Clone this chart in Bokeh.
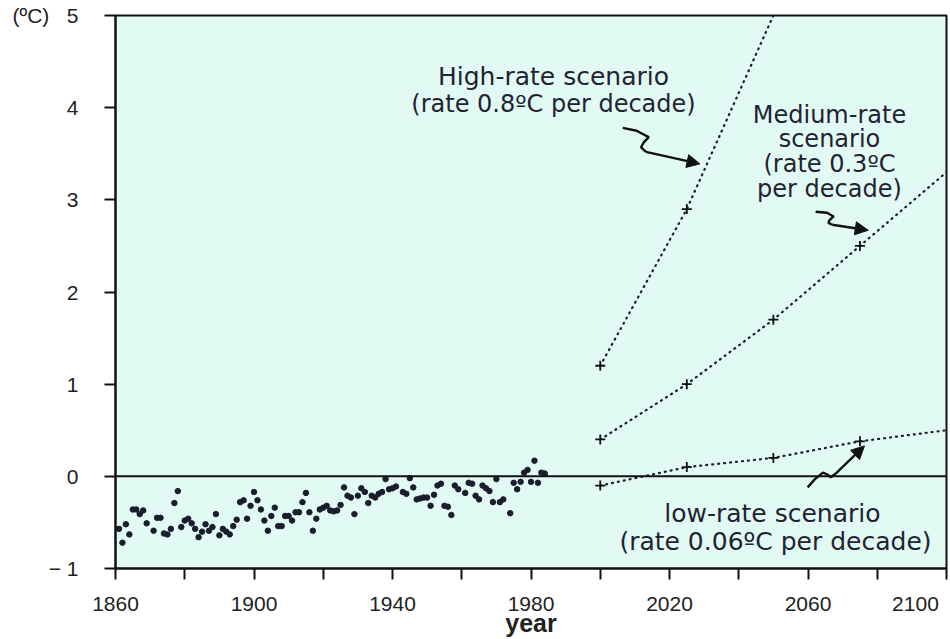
from bokeh.plotting import figure
from bokeh.models import FixedTicker, Label, Arrow, NormalHead, Span
from bokeh.embed import file_html
from bokeh.resources import INLINE

FONT = "Liberation Sans"
AFONT = "DejaVu Sans"

# ---- observed global temperature anomaly (deg C) ----
hist_years = [1861, 1862, 1863, 1864, 1865, 1866, 1867, 1868, 1869, 1871,
              1872, 1873, 1874, 1875, 1876, 1877, 1878, 1879, 1880, 1881,
              1882, 1883, 1884, 1885, 1886, 1887, 1888, 1889, 1890, 1891,
              1892, 1893, 1894, 1895, 1896, 1897, 1898, 1899, 1900, 1901,
              1902, 1903, 1904, 1905, 1906, 1907, 1908, 1909, 1910, 1911,
              1912, 1913, 1914, 1915, 1916, 1917, 1918, 1919, 1920, 1921,
              1922, 1923, 1924, 1925, 1926, 1927, 1928, 1929, 1930, 1931,
              1932, 1933, 1934, 1935, 1936, 1937, 1938, 1939, 1940, 1941,
              1943, 1944, 1945, 1946, 1947, 1948, 1949, 1950, 1951, 1952,
              1953, 1954, 1955, 1956, 1957, 1958, 1959, 1961, 1962, 1963,
              1964, 1965, 1966, 1967, 1968, 1969, 1970, 1971, 1972, 1974,
              1975, 1976, 1977, 1978, 1979, 1980, 1981, 1982, 1983, 1984]
hist_values = [-0.57, -0.72, -0.52, -0.63, -0.36, -0.36, -0.41, -0.37, -0.51, -0.59,
               -0.45, -0.45, -0.62, -0.63, -0.57, -0.29, -0.16, -0.55, -0.48, -0.46,
               -0.51, -0.57, -0.66, -0.60, -0.52, -0.59, -0.55, -0.41, -0.64, -0.57,
               -0.60, -0.63, -0.54, -0.47, -0.28, -0.26, -0.46, -0.32, -0.17, -0.26,
               -0.36, -0.48, -0.59, -0.43, -0.34, -0.54, -0.54, -0.43, -0.43, -0.48,
               -0.39, -0.39, -0.28, -0.18, -0.39, -0.59, -0.46, -0.36, -0.34, -0.32,
               -0.37, -0.38, -0.37, -0.31, -0.12, -0.21, -0.23, -0.41, -0.21, -0.13,
               -0.17, -0.29, -0.21, -0.23, -0.19, -0.17, -0.03, -0.14, -0.13, -0.11,
               -0.17, -0.19, -0.02, -0.12, -0.25, -0.24, -0.23, -0.23, -0.32, -0.20,
               -0.10, -0.08, -0.32, -0.33, -0.42, -0.10, -0.14, -0.18, -0.07, -0.08,
               -0.21, -0.25, -0.10, -0.13, -0.16, -0.28, -0.03, -0.28, -0.25, -0.40,
               -0.07, -0.14, -0.06, 0.04, 0.07, -0.06, 0.17, -0.07, 0.04, 0.03]

# ---- scenarios ----
high_years = [2000, 2025, 2050]
high_values = [1.2, 2.9, 5.0]
medium_years = [2000, 2025, 2050, 2075, 2100]
medium_values = [0.4, 1.0, 1.7, 2.5, 3.3]
low_years = [2000, 2025, 2050, 2075, 2100]
low_values = [-0.1, 0.1, 0.2, 0.38, 0.5]

# ---- axes ----
NB = "\u00a0"
x_ticks = [1860, 1880, 1900, 1920, 1940, 1960, 1980, 2000, 2020, 2040, 2060, 2080, 2100]
x_tick_labels = ["1860", "", "1900", "", "1940", "", "1980", "", "2020", "", "2060", "",
                 "2100" + NB * 2]
y_ticks = [-1, 0, 1, 2, 3, 4, 5]
y_tick_labels = ["\u2212" + NB + "1", "0", "1", "2", "3", "4", "(\u00baC)" + NB * 3 + "5"]

# ---- annotation arrows (year, deg C) ----
high_arrow_x = [2006.5, 2010.5, 2014.0, 2012.5, 2011.8, 2013.2]
high_arrow_y = [3.78, 3.75, 3.68, 3.62, 3.57, 3.52]
high_arrow_end = (2028.8, 3.39)
med_arrow_x = [2062.2, 2065.5, 2067.4, 2066.2, 2065.9, 2067.0]
med_arrow_y = [2.87, 2.86, 2.82, 2.78, 2.75, 2.73]
med_arrow_end = (2077.4, 2.67)
low_arrow_x = [2059.9, 2062.0, 2064.3, 2065.6, 2066.6, 2068.0]
low_arrow_y = [-0.12, -0.03, 0.04, 0.02, -0.01, 0.03]
low_arrow_end = (2076.3, 0.33)

INK = "#1b1d2e"

p = figure(width=950, height=639, x_range=(1860, 2100), y_range=(-1, 5),
           output_backend="svg", toolbar_location=None,
           min_border_left=115, min_border_right=4, min_border_top=15, min_border_bottom=71,
           background_fill_color="#e2faf4", border_fill_color="#ffffff",
           outline_line_color="#111111", outline_line_width=2)
p.grid.visible = False

p.xaxis.ticker = FixedTicker(ticks=x_ticks)
p.xaxis.major_label_overrides = {t: l for t, l in zip(x_ticks, x_tick_labels)}
p.yaxis.ticker = FixedTicker(ticks=y_ticks)
p.yaxis.major_label_overrides = {t: l for t, l in zip(y_ticks, y_tick_labels)}
for ax in (p.xaxis, p.yaxis):
    ax.axis_line_color = "#111111"
    ax.axis_line_width = 2
    ax.major_tick_line_color = "#111111"
    ax.major_tick_line_width = 2
    ax.major_tick_out = 11
    ax.major_tick_in = 0
    ax.minor_tick_line_color = None
    ax.major_label_text_font = FONT
    ax.major_label_text_font_size = "21px"
    ax.major_label_text_color = "#222222"
p.xaxis.major_label_standoff = 12
p.yaxis.major_label_standoff = 26
p.xaxis.axis_label = "year"
p.xaxis.axis_label_text_font = FONT
p.xaxis.axis_label_text_font_style = "bold"
p.xaxis.axis_label_text_font_size = "25px"
p.xaxis.axis_label_text_color = "#222222"
p.xaxis.axis_label_standoff = -9

p.add_layout(Span(location=0, dimension="width", line_color="#111111", line_width=2))

# historical points
p.scatter(hist_years, hist_values, size=5.5, color=INK)

# scenarios
for yrs, vals in ((high_years, high_values), (medium_years, medium_values), (low_years, low_values)):
    p.line(yrs, vals, line_color=INK, line_width=2.2, line_dash="1 5", line_cap="round")
    mx = [a for a, b in zip(yrs, vals) if b < 5 and a < 2100]
    my = [b for a, b in zip(yrs, vals) if b < 5 and a < 2100]
    p.scatter(mx, my, marker="cross", size=10, line_width=1.8, color="#111111")

# arrows
for ax_, ay_, end in ((high_arrow_x, high_arrow_y, high_arrow_end),
                      (med_arrow_x, med_arrow_y, med_arrow_end),
                      (low_arrow_x, low_arrow_y, low_arrow_end)):
    p.line(ax_, ay_, line_color="#111111", line_width=2.4)
    p.add_layout(Arrow(end=NormalHead(size=13, fill_color="#111111", line_color="#111111"),
                       x_start=ax_[-1], y_start=ay_[-1], x_end=end[0], y_end=end[1],
                       line_color="#111111", line_width=2.4))

def label(x, y, text, size="25px", align="center"):
    p.add_layout(Label(x=x, y=y, text=text, text_font=AFONT, text_font_size=size,
                       text_align=align, text_baseline="middle", text_color="#222233"))

label(1986.5, 4.34, "High-rate scenario")
label(1986.5, 4.04, "(rate 0.8\u00baC per decade)", size="24px")
label(2066.2, 3.92, "Medium-rate", size="24px")
label(2066.2, 3.66, "scenario", size="24px")
label(2066.2, 3.39, "(rate 0.3\u00baC", size="24px")
label(2066.2, 3.12, "per decade)", size="24px")
label(2049.7, -0.40, "low-rate scenario")
label(2050.6, -0.71, "(rate 0.06\u00baC per decade)")

open("out.html", "w").write(file_html(p, INLINE))
